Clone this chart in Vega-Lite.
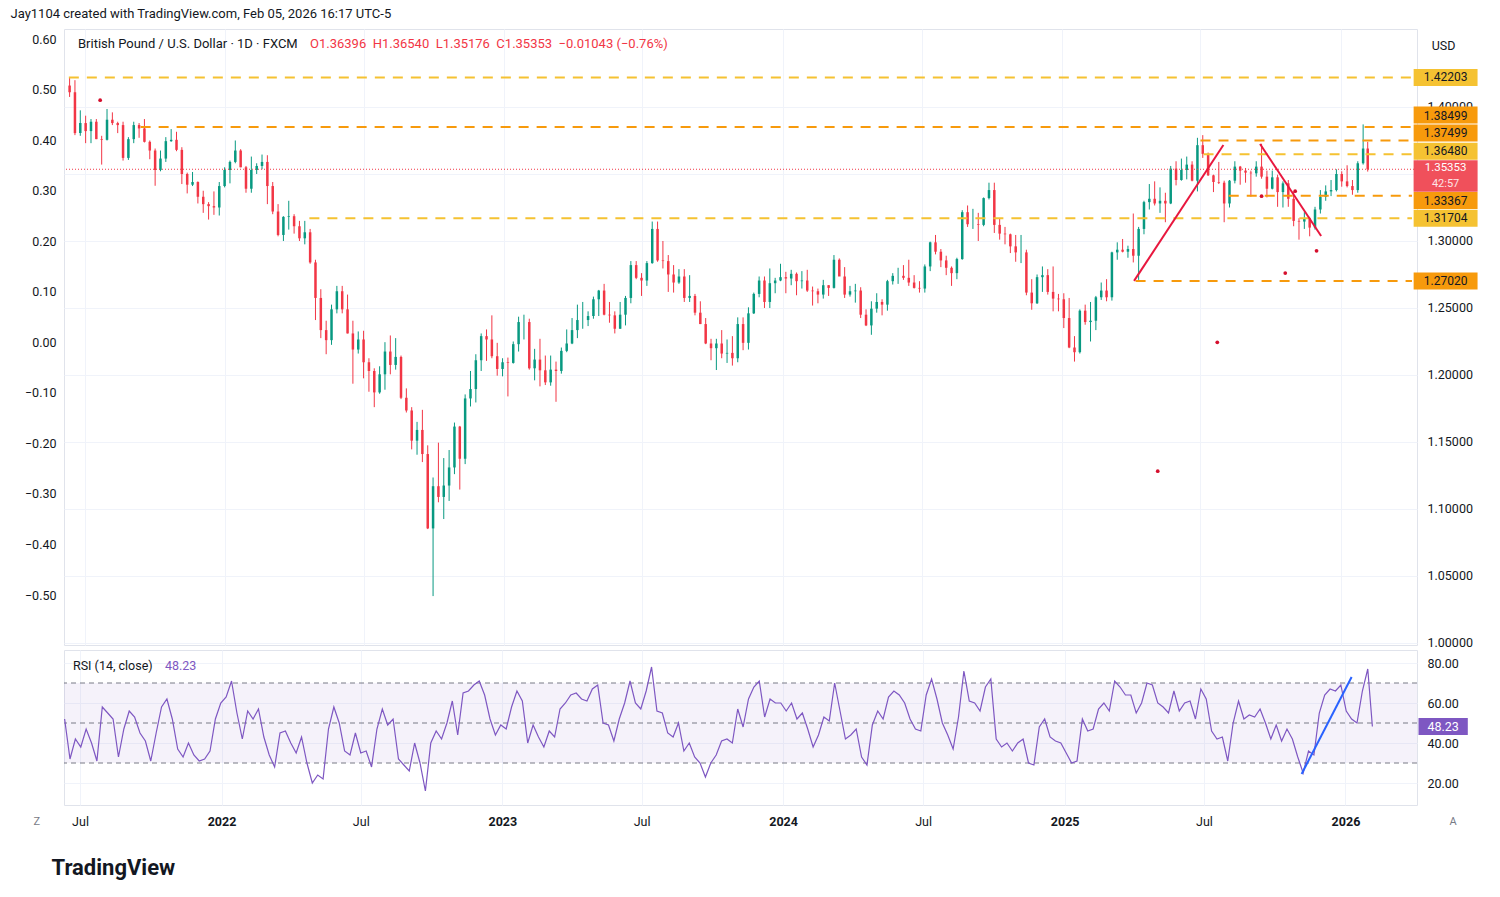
{
  "$schema": "https://vega.github.io/schema/vega-lite/v6.json",
  "background": "white",
  "padding": {"left": 10, "top": 7, "right": 6, "bottom": 10},
  "title": {"text": "Jay1104 created with TradingView.com, Feb 05, 2026 16:17 UTC-5", "anchor": "start", "frame": "bounds", "font": "Roboto", "fontSize": 13, "fontWeight": "normal", "color": "#131722", "offset": 8},
  "config": {
    "font": "Roboto",
    "view": {"stroke": "#e0e3eb"},
    "axis": {"labelFont": "Roboto", "labelFontSize": 12.5, "labelColor": "#131722", "domain": false, "ticks": false, "gridColor": "#f0f3fa", "gridWidth": 1, "titleFont": "Roboto"}
  },
  "datasets": {
    "lv": [
      {"p": 1.42203, "s": "2021-06-10", "k": "gold"},
      {"p": 1.38499, "s": "2021-09-12", "k": "orange"},
      {"p": 1.37499, "s": "2025-07-01", "k": "orange"},
      {"p": 1.3648, "s": "2025-07-05", "k": "gold"},
      {"p": 1.33367, "s": "2025-08-07", "k": "orange"},
      {"p": 1.31704, "s": "2022-04-21", "k": "gold"},
      {"p": 1.2702, "s": "2025-04-07", "k": "orange"}
    ],
    "px": [
      {"d":"2021-06-11","o":1.416,"h":1.422,"l":1.4075,"c":1.411,"r":52},
      {"d":"2021-06-18","o":1.411,"h":1.42,"l":1.379,"c":1.3805,"r":32},
      {"d":"2021-06-25","o":1.3805,"h":1.3975,"l":1.3785,"c":1.388,"r":42},
      {"d":"2021-07-02","o":1.388,"h":1.3935,"l":1.373,"c":1.382,"r":38},
      {"d":"2021-07-09","o":1.382,"h":1.391,"l":1.373,"c":1.389,"r":47},
      {"d":"2021-07-16","o":1.389,"h":1.391,"l":1.376,"c":1.376,"r":40},
      {"d":"2021-07-23","o":1.376,"h":1.3785,"l":1.357,"c":1.3755,"r":31},
      {"d":"2021-07-30","o":1.3755,"h":1.3985,"l":1.375,"c":1.3905,"r":58},
      {"d":"2021-08-06","o":1.3905,"h":1.396,"l":1.3865,"c":1.388,"r":55},
      {"d":"2021-08-13","o":1.388,"h":1.389,"l":1.3805,"c":1.3865,"r":52},
      {"d":"2021-08-20","o":1.3865,"h":1.389,"l":1.36,"c":1.362,"r":33},
      {"d":"2021-08-27","o":1.362,"h":1.3775,"l":1.3605,"c":1.376,"r":47},
      {"d":"2021-09-03","o":1.376,"h":1.389,"l":1.373,"c":1.3865,"r":56},
      {"d":"2021-09-10","o":1.3865,"h":1.388,"l":1.377,"c":1.384,"r":53},
      {"d":"2021-09-17","o":1.384,"h":1.391,"l":1.3735,"c":1.374,"r":45},
      {"d":"2021-09-24","o":1.374,"h":1.375,"l":1.361,"c":1.3675,"r":41},
      {"d":"2021-10-01","o":1.3675,"h":1.369,"l":1.3412,"c":1.353,"r":31},
      {"d":"2021-10-08","o":1.353,"h":1.3675,"l":1.352,"c":1.3615,"r":45},
      {"d":"2021-10-15","o":1.3615,"h":1.3775,"l":1.359,"c":1.3745,"r":58},
      {"d":"2021-10-22","o":1.3745,"h":1.3835,"l":1.374,"c":1.3755,"r":62},
      {"d":"2021-10-29","o":1.3755,"h":1.3815,"l":1.367,"c":1.368,"r":52},
      {"d":"2021-11-05","o":1.368,"h":1.37,"l":1.3425,"c":1.35,"r":37},
      {"d":"2021-11-12","o":1.35,"h":1.351,"l":1.3355,"c":1.342,"r":33},
      {"d":"2021-11-19","o":1.342,"h":1.3515,"l":1.341,"c":1.344,"r":40},
      {"d":"2021-11-26","o":1.344,"h":1.3445,"l":1.328,"c":1.333,"r":34},
      {"d":"2021-12-03","o":1.333,"h":1.3375,"l":1.321,"c":1.3275,"r":31},
      {"d":"2021-12-10","o":1.3275,"h":1.329,"l":1.316,"c":1.326,"r":32},
      {"d":"2021-12-17","o":1.326,"h":1.337,"l":1.3195,"c":1.325,"r":36},
      {"d":"2021-12-24","o":1.325,"h":1.344,"l":1.319,"c":1.341,"r":52},
      {"d":"2021-12-31","o":1.341,"h":1.355,"l":1.34,"c":1.353,"r":60},
      {"d":"2022-01-07","o":1.353,"h":1.36,"l":1.343,"c":1.359,"r":63},
      {"d":"2022-01-14","o":1.359,"h":1.375,"l":1.358,"c":1.3675,"r":71},
      {"d":"2022-01-21","o":1.3675,"h":1.3685,"l":1.355,"c":1.355,"r":55},
      {"d":"2022-01-28","o":1.355,"h":1.356,"l":1.336,"c":1.339,"r":42},
      {"d":"2022-02-04","o":1.339,"h":1.363,"l":1.336,"c":1.353,"r":56},
      {"d":"2022-02-11","o":1.353,"h":1.358,"l":1.35,"c":1.356,"r":52},
      {"d":"2022-02-18","o":1.356,"h":1.3645,"l":1.3535,"c":1.359,"r":57},
      {"d":"2022-02-25","o":1.359,"h":1.364,"l":1.3275,"c":1.341,"r":43},
      {"d":"2022-03-04","o":1.341,"h":1.344,"l":1.32,"c":1.322,"r":34},
      {"d":"2022-03-11","o":1.322,"h":1.3275,"l":1.3035,"c":1.3045,"r":28},
      {"d":"2022-03-18","o":1.3045,"h":1.3185,"l":1.3,"c":1.318,"r":45},
      {"d":"2022-03-25","o":1.318,"h":1.33,"l":1.3085,"c":1.3185,"r":46},
      {"d":"2022-04-01","o":1.3185,"h":1.32,"l":1.3055,"c":1.311,"r":40},
      {"d":"2022-04-08","o":1.311,"h":1.315,"l":1.3,"c":1.302,"r":35},
      {"d":"2022-04-15","o":1.302,"h":1.315,"l":1.2975,"c":1.3065,"r":43},
      {"d":"2022-04-22","o":1.3065,"h":1.309,"l":1.283,"c":1.284,"r":30},
      {"d":"2022-04-29","o":1.284,"h":1.286,"l":1.241,"c":1.2575,"r":20},
      {"d":"2022-05-06","o":1.2575,"h":1.264,"l":1.2275,"c":1.2335,"r":24},
      {"d":"2022-05-13","o":1.2335,"h":1.2405,"l":1.2155,"c":1.226,"r":22},
      {"d":"2022-05-20","o":1.226,"h":1.2525,"l":1.2225,"c":1.249,"r":47},
      {"d":"2022-05-27","o":1.249,"h":1.2665,"l":1.246,"c":1.2625,"r":58},
      {"d":"2022-06-03","o":1.2625,"h":1.2665,"l":1.246,"c":1.249,"r":50},
      {"d":"2022-06-10","o":1.249,"h":1.26,"l":1.231,"c":1.231,"r":36},
      {"d":"2022-06-17","o":1.231,"h":1.2405,"l":1.1935,"c":1.219,"r":34},
      {"d":"2022-06-24","o":1.219,"h":1.2325,"l":1.216,"c":1.2265,"r":45},
      {"d":"2022-07-01","o":1.2265,"h":1.233,"l":1.1975,"c":1.2095,"r":35},
      {"d":"2022-07-08","o":1.2095,"h":1.2125,"l":1.1875,"c":1.203,"r":36},
      {"d":"2022-07-15","o":1.203,"h":1.205,"l":1.176,"c":1.187,"r":28},
      {"d":"2022-07-22","o":1.187,"h":1.2065,"l":1.186,"c":1.2005,"r":47},
      {"d":"2022-07-29","o":1.2005,"h":1.2245,"l":1.189,"c":1.2175,"r":57},
      {"d":"2022-08-05","o":1.2175,"h":1.2295,"l":1.2005,"c":1.2075,"r":49},
      {"d":"2022-08-12","o":1.2075,"h":1.2275,"l":1.204,"c":1.2135,"r":52},
      {"d":"2022-08-19","o":1.2135,"h":1.2145,"l":1.182,"c":1.183,"r":32},
      {"d":"2022-08-26","o":1.183,"h":1.19,"l":1.172,"c":1.1735,"r":29},
      {"d":"2022-09-02","o":1.1735,"h":1.176,"l":1.1445,"c":1.151,"r":26},
      {"d":"2022-09-09","o":1.151,"h":1.165,"l":1.1405,"c":1.159,"r":40},
      {"d":"2022-09-16","o":1.159,"h":1.174,"l":1.135,"c":1.141,"r":30},
      {"d":"2022-09-23","o":1.141,"h":1.1475,"l":1.085,"c":1.0855,"r":16},
      {"d":"2022-09-30","o":1.0855,"h":1.1235,"l":1.035,"c":1.117,"r":40},
      {"d":"2022-10-07","o":1.117,"h":1.1495,"l":1.105,"c":1.109,"r":46},
      {"d":"2022-10-14","o":1.109,"h":1.138,"l":1.0925,"c":1.1175,"r":42},
      {"d":"2022-10-21","o":1.1175,"h":1.144,"l":1.106,"c":1.131,"r":50},
      {"d":"2022-10-28","o":1.131,"h":1.1645,"l":1.126,"c":1.1615,"r":61},
      {"d":"2022-11-04","o":1.1615,"h":1.162,"l":1.1145,"c":1.1375,"r":44},
      {"d":"2022-11-11","o":1.1375,"h":1.1855,"l":1.1335,"c":1.1825,"r":65},
      {"d":"2022-11-18","o":1.1825,"h":1.203,"l":1.1765,"c":1.1895,"r":66},
      {"d":"2022-11-25","o":1.1895,"h":1.2155,"l":1.1795,"c":1.211,"r":69},
      {"d":"2022-12-02","o":1.211,"h":1.231,"l":1.203,"c":1.229,"r":71},
      {"d":"2022-12-09","o":1.229,"h":1.234,"l":1.2105,"c":1.2265,"r":64},
      {"d":"2022-12-16","o":1.2265,"h":1.2445,"l":1.2125,"c":1.214,"r":52},
      {"d":"2022-12-23","o":1.214,"h":1.224,"l":1.1995,"c":1.2045,"r":44},
      {"d":"2022-12-30","o":1.2045,"h":1.2125,"l":1.199,"c":1.2095,"r":49},
      {"d":"2023-01-06","o":1.2095,"h":1.213,"l":1.184,"c":1.209,"r":47},
      {"d":"2023-01-13","o":1.209,"h":1.225,"l":1.2085,"c":1.223,"r":58},
      {"d":"2023-01-20","o":1.223,"h":1.2435,"l":1.2175,"c":1.2395,"r":66},
      {"d":"2023-01-27","o":1.2395,"h":1.245,"l":1.2265,"c":1.2395,"r":61},
      {"d":"2023-02-03","o":1.2395,"h":1.242,"l":1.204,"c":1.205,"r":40},
      {"d":"2023-02-10","o":1.205,"h":1.2195,"l":1.196,"c":1.2115,"r":49},
      {"d":"2023-02-17","o":1.2115,"h":1.227,"l":1.1915,"c":1.2035,"r":43},
      {"d":"2023-02-24","o":1.2035,"h":1.2145,"l":1.1925,"c":1.1945,"r":38},
      {"d":"2023-03-03","o":1.1945,"h":1.2145,"l":1.192,"c":1.204,"r":46},
      {"d":"2023-03-10","o":1.204,"h":1.21,"l":1.18,"c":1.203,"r":43},
      {"d":"2023-03-17","o":1.203,"h":1.2205,"l":1.201,"c":1.218,"r":57},
      {"d":"2023-03-24","o":1.218,"h":1.234,"l":1.217,"c":1.2235,"r":60},
      {"d":"2023-03-31","o":1.2235,"h":1.2425,"l":1.223,"c":1.2335,"r":64},
      {"d":"2023-04-07","o":1.2335,"h":1.2525,"l":1.2275,"c":1.241,"r":65},
      {"d":"2023-04-14","o":1.241,"h":1.2545,"l":1.2345,"c":1.241,"r":62},
      {"d":"2023-04-21","o":1.241,"h":1.2475,"l":1.2365,"c":1.244,"r":61},
      {"d":"2023-04-28","o":1.244,"h":1.2585,"l":1.242,"c":1.2565,"r":67},
      {"d":"2023-05-05","o":1.2565,"h":1.2635,"l":1.244,"c":1.263,"r":69},
      {"d":"2023-05-12","o":1.263,"h":1.268,"l":1.2445,"c":1.245,"r":50},
      {"d":"2023-05-19","o":1.245,"h":1.2545,"l":1.239,"c":1.2445,"r":49},
      {"d":"2023-05-26","o":1.2445,"h":1.2475,"l":1.231,"c":1.2345,"r":41},
      {"d":"2023-06-02","o":1.2345,"h":1.2545,"l":1.2345,"c":1.245,"r":52},
      {"d":"2023-06-09","o":1.245,"h":1.259,"l":1.237,"c":1.2575,"r":60},
      {"d":"2023-06-16","o":1.2575,"h":1.285,"l":1.2535,"c":1.282,"r":71},
      {"d":"2023-06-23","o":1.282,"h":1.285,"l":1.2715,"c":1.2725,"r":60},
      {"d":"2023-06-30","o":1.2725,"h":1.276,"l":1.259,"c":1.2705,"r":57},
      {"d":"2023-07-07","o":1.2705,"h":1.285,"l":1.2665,"c":1.2835,"r":66},
      {"d":"2023-07-14","o":1.2835,"h":1.3145,"l":1.283,"c":1.309,"r":78},
      {"d":"2023-07-21","o":1.309,"h":1.3145,"l":1.2845,"c":1.2855,"r":56},
      {"d":"2023-07-28","o":1.2855,"h":1.3,"l":1.2795,"c":1.285,"r":55},
      {"d":"2023-08-04","o":1.285,"h":1.2895,"l":1.262,"c":1.275,"r":45},
      {"d":"2023-08-11","o":1.275,"h":1.282,"l":1.2615,"c":1.269,"r":43},
      {"d":"2023-08-18","o":1.269,"h":1.279,"l":1.268,"c":1.2735,"r":50},
      {"d":"2023-08-25","o":1.2735,"h":1.279,"l":1.2545,"c":1.2575,"r":36},
      {"d":"2023-09-01","o":1.2575,"h":1.2745,"l":1.2545,"c":1.259,"r":40},
      {"d":"2023-09-08","o":1.259,"h":1.2605,"l":1.2445,"c":1.2465,"r":33},
      {"d":"2023-09-15","o":1.2465,"h":1.255,"l":1.238,"c":1.238,"r":30},
      {"d":"2023-09-22","o":1.238,"h":1.2425,"l":1.223,"c":1.2235,"r":23},
      {"d":"2023-09-29","o":1.2235,"h":1.227,"l":1.211,"c":1.22,"r":30},
      {"d":"2023-10-06","o":1.22,"h":1.227,"l":1.2037,"c":1.2235,"r":34},
      {"d":"2023-10-13","o":1.2235,"h":1.2335,"l":1.2125,"c":1.216,"r":41},
      {"d":"2023-10-20","o":1.216,"h":1.2265,"l":1.209,"c":1.2165,"r":42},
      {"d":"2023-10-27","o":1.2165,"h":1.229,"l":1.207,"c":1.2125,"r":40},
      {"d":"2023-11-03","o":1.2125,"h":1.243,"l":1.2095,"c":1.238,"r":57},
      {"d":"2023-11-10","o":1.238,"h":1.243,"l":1.2185,"c":1.224,"r":48},
      {"d":"2023-11-17","o":1.224,"h":1.2505,"l":1.219,"c":1.246,"r":62},
      {"d":"2023-11-24","o":1.246,"h":1.2615,"l":1.2455,"c":1.2605,"r":68},
      {"d":"2023-12-01","o":1.2605,"h":1.2735,"l":1.258,"c":1.2705,"r":71},
      {"d":"2023-12-08","o":1.2705,"h":1.2735,"l":1.25,"c":1.2545,"r":53},
      {"d":"2023-12-15","o":1.2545,"h":1.2795,"l":1.25,"c":1.2685,"r":62},
      {"d":"2023-12-22","o":1.2685,"h":1.2725,"l":1.261,"c":1.2705,"r":60},
      {"d":"2023-12-29","o":1.2705,"h":1.283,"l":1.27,"c":1.273,"r":60},
      {"d":"2024-01-05","o":1.273,"h":1.277,"l":1.261,"c":1.272,"r":56},
      {"d":"2024-01-12","o":1.272,"h":1.2785,"l":1.267,"c":1.2755,"r":60},
      {"d":"2024-01-19","o":1.2755,"h":1.2765,"l":1.2595,"c":1.27,"r":52},
      {"d":"2024-01-26","o":1.27,"h":1.2775,"l":1.2645,"c":1.2705,"r":55},
      {"d":"2024-02-02","o":1.2705,"h":1.2785,"l":1.262,"c":1.263,"r":47},
      {"d":"2024-02-09","o":1.263,"h":1.266,"l":1.2518,"c":1.2625,"r":38},
      {"d":"2024-02-16","o":1.2625,"h":1.2645,"l":1.2535,"c":1.26,"r":44},
      {"d":"2024-02-23","o":1.26,"h":1.271,"l":1.257,"c":1.267,"r":53},
      {"d":"2024-03-01","o":1.267,"h":1.267,"l":1.259,"c":1.265,"r":51},
      {"d":"2024-03-08","o":1.265,"h":1.2895,"l":1.2645,"c":1.286,"r":70},
      {"d":"2024-03-15","o":1.286,"h":1.287,"l":1.274,"c":1.2735,"r":56},
      {"d":"2024-03-22","o":1.2735,"h":1.2805,"l":1.2575,"c":1.26,"r":42},
      {"d":"2024-03-29","o":1.26,"h":1.2665,"l":1.2585,"c":1.2625,"r":44},
      {"d":"2024-04-05","o":1.2625,"h":1.268,"l":1.254,"c":1.263,"r":47},
      {"d":"2024-04-12","o":1.263,"h":1.2655,"l":1.2425,"c":1.245,"r":33},
      {"d":"2024-04-19","o":1.245,"h":1.249,"l":1.2365,"c":1.237,"r":29},
      {"d":"2024-04-26","o":1.237,"h":1.255,"l":1.23,"c":1.2495,"r":49},
      {"d":"2024-05-03","o":1.2495,"h":1.261,"l":1.2465,"c":1.2545,"r":56},
      {"d":"2024-05-10","o":1.2545,"h":1.2565,"l":1.2445,"c":1.2525,"r":52},
      {"d":"2024-05-17","o":1.2525,"h":1.271,"l":1.248,"c":1.27,"r":63},
      {"d":"2024-05-24","o":1.27,"h":1.276,"l":1.2675,"c":1.274,"r":66},
      {"d":"2024-05-31","o":1.274,"h":1.28,"l":1.268,"c":1.274,"r":64},
      {"d":"2024-06-07","o":1.274,"h":1.282,"l":1.271,"c":1.2725,"r":60},
      {"d":"2024-06-14","o":1.2725,"h":1.286,"l":1.2665,"c":1.269,"r":52},
      {"d":"2024-06-21","o":1.269,"h":1.2745,"l":1.2645,"c":1.265,"r":47},
      {"d":"2024-06-28","o":1.265,"h":1.27,"l":1.2615,"c":1.2645,"r":46},
      {"d":"2024-07-05","o":1.2645,"h":1.2825,"l":1.2615,"c":1.281,"r":64},
      {"d":"2024-07-12","o":1.281,"h":1.2995,"l":1.2775,"c":1.299,"r":72},
      {"d":"2024-07-19","o":1.299,"h":1.3045,"l":1.29,"c":1.292,"r":62},
      {"d":"2024-07-26","o":1.292,"h":1.294,"l":1.2805,"c":1.2855,"r":50},
      {"d":"2024-08-02","o":1.2855,"h":1.289,"l":1.2745,"c":1.28,"r":44},
      {"d":"2024-08-09","o":1.28,"h":1.281,"l":1.2665,"c":1.276,"r":37},
      {"d":"2024-08-16","o":1.276,"h":1.2875,"l":1.2715,"c":1.2865,"r":53},
      {"d":"2024-08-23","o":1.2865,"h":1.323,"l":1.286,"c":1.3215,"r":76},
      {"d":"2024-08-30","o":1.3215,"h":1.3265,"l":1.3105,"c":1.3125,"r":61},
      {"d":"2024-09-06","o":1.3125,"h":1.324,"l":1.309,"c":1.3125,"r":60},
      {"d":"2024-09-13","o":1.3125,"h":1.321,"l":1.3,"c":1.312,"r":56},
      {"d":"2024-09-20","o":1.312,"h":1.3325,"l":1.311,"c":1.332,"r":68},
      {"d":"2024-09-27","o":1.332,"h":1.3435,"l":1.331,"c":1.338,"r":72},
      {"d":"2024-10-04","o":1.338,"h":1.3435,"l":1.306,"c":1.312,"r":42},
      {"d":"2024-10-11","o":1.312,"h":1.3165,"l":1.301,"c":1.3055,"r":38},
      {"d":"2024-10-18","o":1.3055,"h":1.3105,"l":1.2975,"c":1.305,"r":40},
      {"d":"2024-10-25","o":1.305,"h":1.3055,"l":1.291,"c":1.296,"r":36},
      {"d":"2024-11-01","o":1.296,"h":1.3045,"l":1.2845,"c":1.2915,"r":40},
      {"d":"2024-11-08","o":1.2915,"h":1.3045,"l":1.2835,"c":1.2915,"r":42},
      {"d":"2024-11-15","o":1.2915,"h":1.2935,"l":1.2595,"c":1.2615,"r":30},
      {"d":"2024-11-22","o":1.2615,"h":1.2715,"l":1.2487,"c":1.2535,"r":29},
      {"d":"2024-11-29","o":1.2535,"h":1.275,"l":1.253,"c":1.273,"r":48},
      {"d":"2024-12-06","o":1.273,"h":1.281,"l":1.262,"c":1.2745,"r":52},
      {"d":"2024-12-13","o":1.2745,"h":1.279,"l":1.26,"c":1.262,"r":43},
      {"d":"2024-12-20","o":1.262,"h":1.281,"l":1.2475,"c":1.257,"r":41},
      {"d":"2024-12-27","o":1.257,"h":1.2605,"l":1.2475,"c":1.2565,"r":40},
      {"d":"2025-01-03","o":1.2565,"h":1.261,"l":1.235,"c":1.2425,"r":35},
      {"d":"2025-01-10","o":1.2425,"h":1.2575,"l":1.22,"c":1.2205,"r":30},
      {"d":"2025-01-17","o":1.2205,"h":1.229,"l":1.21,"c":1.217,"r":31},
      {"d":"2025-01-24","o":1.217,"h":1.249,"l":1.216,"c":1.248,"r":52},
      {"d":"2025-01-31","o":1.248,"h":1.2525,"l":1.2375,"c":1.2395,"r":46},
      {"d":"2025-02-07","o":1.2395,"h":1.2545,"l":1.225,"c":1.2405,"r":47},
      {"d":"2025-02-14","o":1.2405,"h":1.259,"l":1.2335,"c":1.258,"r":57},
      {"d":"2025-02-21","o":1.258,"h":1.269,"l":1.256,"c":1.263,"r":60},
      {"d":"2025-02-28","o":1.263,"h":1.2715,"l":1.255,"c":1.258,"r":56},
      {"d":"2025-03-07","o":1.258,"h":1.292,"l":1.2555,"c":1.2915,"r":71},
      {"d":"2025-03-14","o":1.2915,"h":1.299,"l":1.286,"c":1.2935,"r":68},
      {"d":"2025-03-21","o":1.2935,"h":1.3015,"l":1.2915,"c":1.292,"r":64},
      {"d":"2025-03-28","o":1.292,"h":1.2965,"l":1.2875,"c":1.294,"r":64},
      {"d":"2025-04-04","o":1.294,"h":1.3205,"l":1.284,"c":1.289,"r":55},
      {"d":"2025-04-11","o":1.289,"h":1.3105,"l":1.271,"c":1.309,"r":60},
      {"d":"2025-04-18","o":1.309,"h":1.33,"l":1.305,"c":1.329,"r":70},
      {"d":"2025-04-25","o":1.329,"h":1.3425,"l":1.3235,"c":1.3315,"r":69},
      {"d":"2025-05-02","o":1.3315,"h":1.3445,"l":1.3265,"c":1.328,"r":60},
      {"d":"2025-05-09","o":1.328,"h":1.34,"l":1.321,"c":1.33,"r":58},
      {"d":"2025-05-16","o":1.33,"h":1.336,"l":1.314,"c":1.328,"r":55},
      {"d":"2025-05-23","o":1.328,"h":1.356,"l":1.3275,"c":1.354,"r":66},
      {"d":"2025-05-30","o":1.354,"h":1.3595,"l":1.3415,"c":1.3455,"r":56},
      {"d":"2025-06-06","o":1.3455,"h":1.3615,"l":1.345,"c":1.353,"r":60},
      {"d":"2025-06-13","o":1.353,"h":1.363,"l":1.346,"c":1.357,"r":61},
      {"d":"2025-06-20","o":1.357,"h":1.3595,"l":1.3445,"c":1.345,"r":52},
      {"d":"2025-06-27","o":1.345,"h":1.377,"l":1.337,"c":1.3715,"r":67},
      {"d":"2025-07-04","o":1.3715,"h":1.379,"l":1.362,"c":1.365,"r":62},
      {"d":"2025-07-11","o":1.365,"h":1.366,"l":1.3485,"c":1.349,"r":46},
      {"d":"2025-07-18","o":1.349,"h":1.3495,"l":1.3365,"c":1.344,"r":42},
      {"d":"2025-07-25","o":1.344,"h":1.359,"l":1.3425,"c":1.3435,"r":43},
      {"d":"2025-08-01","o":1.3435,"h":1.345,"l":1.314,"c":1.328,"r":31},
      {"d":"2025-08-08","o":1.328,"h":1.3455,"l":1.325,"c":1.345,"r":50},
      {"d":"2025-08-15","o":1.345,"h":1.3595,"l":1.343,"c":1.3555,"r":61},
      {"d":"2025-08-22","o":1.3555,"h":1.356,"l":1.342,"c":1.3525,"r":52},
      {"d":"2025-08-29","o":1.3525,"h":1.3545,"l":1.3435,"c":1.351,"r":54},
      {"d":"2025-09-05","o":1.351,"h":1.3525,"l":1.333,"c":1.3505,"r":53},
      {"d":"2025-09-12","o":1.3505,"h":1.3595,"l":1.348,"c":1.3555,"r":57},
      {"d":"2025-09-19","o":1.3555,"h":1.3726,"l":1.3465,"c":1.348,"r":50},
      {"d":"2025-09-26","o":1.348,"h":1.3525,"l":1.3325,"c":1.339,"r":42},
      {"d":"2025-10-03","o":1.339,"h":1.3525,"l":1.3385,"c":1.3475,"r":49},
      {"d":"2025-10-10","o":1.3475,"h":1.3495,"l":1.3255,"c":1.3365,"r":41},
      {"d":"2025-10-17","o":1.3365,"h":1.3445,"l":1.325,"c":1.343,"r":47},
      {"d":"2025-10-24","o":1.343,"h":1.3455,"l":1.3255,"c":1.3315,"r":42},
      {"d":"2025-10-31","o":1.3315,"h":1.3365,"l":1.311,"c":1.315,"r":33},
      {"d":"2025-11-07","o":1.315,"h":1.317,"l":1.301,"c":1.3145,"r":25},
      {"d":"2025-11-14","o":1.3145,"h":1.3215,"l":1.309,"c":1.317,"r":36},
      {"d":"2025-11-21","o":1.317,"h":1.318,"l":1.3035,"c":1.31,"r":34},
      {"d":"2025-11-28","o":1.31,"h":1.3255,"l":1.3085,"c":1.3235,"r":55},
      {"d":"2025-12-05","o":1.3235,"h":1.338,"l":1.3205,"c":1.333,"r":64},
      {"d":"2025-12-12","o":1.333,"h":1.3415,"l":1.33,"c":1.337,"r":67},
      {"d":"2025-12-19","o":1.337,"h":1.3455,"l":1.3335,"c":1.338,"r":66},
      {"d":"2025-12-26","o":1.338,"h":1.3535,"l":1.337,"c":1.35,"r":69},
      {"d":"2026-01-02","o":1.35,"h":1.352,"l":1.3405,"c":1.3445,"r":56},
      {"d":"2026-01-09","o":1.3445,"h":1.3565,"l":1.34,"c":1.341,"r":52},
      {"d":"2026-01-16","o":1.341,"h":1.3455,"l":1.3345,"c":1.338,"r":50},
      {"d":"2026-01-23","o":1.338,"h":1.3595,"l":1.336,"c":1.358,"r":66},
      {"d":"2026-01-30","o":1.358,"h":1.387,"l":1.357,"c":1.369,"r":77},
      {"d":"2026-02-05","o":1.369,"h":1.374,"l":1.3518,"c":1.3535,"r":48.23}
    ]
  },
  "spacing": -4,
  "vconcat": [
    {
      "width": 1353,
      "height": 616,
      "layer": [
        {
          "layer": [
            {
              "data": {"name": "px"},
              "mark": {"type": "rule", "strokeWidth": 1},
              "encoding": {
                "x": {"field": "d", "type": "temporal", "scale": {"domain": [{"year": 2021, "month": 6, "date": 10, "hours": 5}, {"year": 2026, "month": 4, "date": 4}]},
                  "axis": {"orient": "bottom", "labels": false, "grid": true, "title": null, "minExtent": 0, "maxExtent": 0, "labelPadding": 0, "values": [{"year":2021,"month":7,"date":1},{"year":2022,"month":1,"date":1},{"year":2022,"month":7,"date":1},{"year":2023,"month":1,"date":1},{"year":2023,"month":7,"date":1},{"year":2024,"month":1,"date":1},{"year":2024,"month":7,"date":1},{"year":2025,"month":1,"date":1},{"year":2025,"month":7,"date":1},{"year":2026,"month":1,"date":1}]}},
                "y": {"field": "l", "type": "quantitative", "scale": {"domain": [0.9985, 1.4582], "zero": false},
                  "axis": {"orient": "right", "values": [1, 1.05, 1.1, 1.15, 1.2, 1.25, 1.3, 1.35, 1.4], "format": ".5f", "grid": true, "labelPadding": 10, "title": "USD", "titleAngle": 0, "titleX": 26, "titleY": 16, "titleAlign": "center", "titleBaseline": "middle", "titleFontSize": 12.5, "titleFontWeight": "normal", "titleColor": "#131722"}},
                "y2": {"field": "h"},
                "color": {"condition": {"test": "datum.c >= datum.o", "value": "#089981"}, "value": "#f23645"}
              }
            },
            {
              "data": {"name": "px"},
              "mark": {"type": "bar", "size": 2.5},
              "encoding": {
                "x": {"field": "d", "type": "temporal", "scale": {"domain": [{"year": 2021, "month": 6, "date": 10, "hours": 5}, {"year": 2026, "month": 4, "date": 4}]}},
                "y": {"field": "o", "type": "quantitative", "scale": {"domain": [0.9985, 1.4582], "zero": false}},
                "y2": {"field": "c"},
                "color": {"condition": {"test": "datum.c >= datum.o", "value": "#089981"}, "value": "#f23645"}
              }
            },
            {
              "data": {"name": "lv"},
              "mark": {"type": "rule", "strokeWidth": 2, "strokeDash": [10, 8]},
              "encoding": {
                "x": {"field": "s", "type": "temporal", "scale": {"domain": [{"year": 2021, "month": 6, "date": 10, "hours": 5}, {"year": 2026, "month": 4, "date": 4}]}},
                "x2": {"datum": {"year": 2026, "month": 4, "date": 4}},
                "y": {"field": "p", "type": "quantitative", "scale": {"domain": [0.9985, 1.4582], "zero": false}},
                "color": {"field": "k", "type": "nominal", "scale": {"domain": ["gold", "orange"], "range": ["#f5c232", "#f79a0c"]}, "legend": null}
              }
            },
            {
              "data": {"values": [{"p": 1.35353}]},
              "mark": {"type": "rule", "color": "#f23645", "strokeWidth": 1, "strokeDash": [1, 2]},
              "encoding": {
                "y": {"field": "p", "type": "quantitative", "scale": {"domain": [0.9985, 1.4582], "zero": false}}
              }
            },
            {
              "data": {"values": [
                {"g": 1, "d": "2025-04-05", "p": 1.2702},
                {"g": 1, "d": "2025-07-31", "p": 1.3716},
                {"g": 2, "d": "2025-09-17", "p": 1.3724},
                {"g": 2, "d": "2025-12-06", "p": 1.3037}
              ]},
              "mark": {"type": "line", "color": "#e8173e", "strokeWidth": 2},
              "encoding": {
                "x": {"field": "d", "type": "temporal", "scale": {"domain": [{"year": 2021, "month": 6, "date": 10, "hours": 5}, {"year": 2026, "month": 4, "date": 4}]}},
                "y": {"field": "p", "type": "quantitative", "scale": {"domain": [0.9985, 1.4582], "zero": false}},
                "detail": {"field": "g"}
              }
            },
            {
              "data": {"name": "lv"},
              "transform": [{"filter": "datum.p == 1.42203 || datum.p == 1.31704 || datum.p == 1.2702"}],
              "layer": [
                {"mark": {"type": "point", "filled": true, "opacity": 1, "strokeWidth": 0, "shape": "M-1.88,-0.5H1.88V0.5H-1.88Z", "size": 1156},
                 "encoding": {"x": {"datum": {"year": 2026, "month": 5, "date": 18}, "type": "temporal", "scale": {"domain": [{"year": 2021, "month": 6, "date": 10, "hours": 5}, {"year": 2026, "month": 4, "date": 4}]}},
                   "y": {"field": "p", "type": "quantitative", "scale": {"domain": [0.9985, 1.4582], "zero": false}},
                   "color": {"field": "k", "type": "nominal", "scale": {"domain": ["gold", "orange"], "range": ["#f5c232", "#f79a0c"]}, "legend": null}}},
                {"mark": {"type": "text", "fontSize": 12, "color": "#131722", "align": "center", "baseline": "middle"},
                 "encoding": {"x": {"datum": {"year": 2026, "month": 5, "date": 18}, "type": "temporal", "scale": {"domain": [{"year": 2021, "month": 6, "date": 10, "hours": 5}, {"year": 2026, "month": 4, "date": 4}]}},
                   "y": {"field": "p", "type": "quantitative", "scale": {"domain": [0.9985, 1.4582], "zero": false}},
                   "text": {"field": "p", "format": ".5f"}}}
              ]
            },
            {
              "data": {"name": "lv"},
              "transform": [{"filter": "datum.p == 1.38499"}],
              "layer": [
                {"mark": {"type": "point", "filled": true, "opacity": 1, "strokeWidth": 0, "shape": "M-1.88,-0.5H1.88V0.5H-1.88Z", "size": 1156, "yOffset": -12},
                 "encoding": {"x": {"datum": {"year": 2026, "month": 5, "date": 18}, "type": "temporal", "scale": {"domain": [{"year": 2021, "month": 6, "date": 10, "hours": 5}, {"year": 2026, "month": 4, "date": 4}]}},
                   "y": {"field": "p", "type": "quantitative", "scale": {"domain": [0.9985, 1.4582], "zero": false}},
                   "color": {"field": "k", "type": "nominal", "scale": {"domain": ["gold", "orange"], "range": ["#f5c232", "#f79a0c"]}, "legend": null}}},
                {"mark": {"type": "text", "fontSize": 12, "color": "#131722", "align": "center", "baseline": "middle", "yOffset": -11},
                 "encoding": {"x": {"datum": {"year": 2026, "month": 5, "date": 18}, "type": "temporal", "scale": {"domain": [{"year": 2021, "month": 6, "date": 10, "hours": 5}, {"year": 2026, "month": 4, "date": 4}]}},
                   "y": {"field": "p", "type": "quantitative", "scale": {"domain": [0.9985, 1.4582], "zero": false}},
                   "text": {"field": "p", "format": ".5f"}}}
              ]
            },
            {
              "data": {"name": "lv"},
              "transform": [{"filter": "datum.p == 1.37499"}],
              "layer": [
                {"mark": {"type": "point", "filled": true, "opacity": 1, "strokeWidth": 0, "shape": "M-1.88,-0.5H1.88V0.5H-1.88Z", "size": 1156, "yOffset": -7.5},
                 "encoding": {"x": {"datum": {"year": 2026, "month": 5, "date": 18}, "type": "temporal", "scale": {"domain": [{"year": 2021, "month": 6, "date": 10, "hours": 5}, {"year": 2026, "month": 4, "date": 4}]}},
                   "y": {"field": "p", "type": "quantitative", "scale": {"domain": [0.9985, 1.4582], "zero": false}},
                   "color": {"field": "k", "type": "nominal", "scale": {"domain": ["gold", "orange"], "range": ["#f5c232", "#f79a0c"]}, "legend": null}}},
                {"mark": {"type": "text", "fontSize": 12, "color": "#131722", "align": "center", "baseline": "middle", "yOffset": -7.5},
                 "encoding": {"x": {"datum": {"year": 2026, "month": 5, "date": 18}, "type": "temporal", "scale": {"domain": [{"year": 2021, "month": 6, "date": 10, "hours": 5}, {"year": 2026, "month": 4, "date": 4}]}},
                   "y": {"field": "p", "type": "quantitative", "scale": {"domain": [0.9985, 1.4582], "zero": false}},
                   "text": {"field": "p", "format": ".5f"}}}
              ]
            },
            {
              "data": {"name": "lv"},
              "transform": [{"filter": "datum.p == 1.3648"}],
              "layer": [
                {"mark": {"type": "point", "filled": true, "opacity": 1, "strokeWidth": 0, "shape": "M-1.88,-0.5H1.88V0.5H-1.88Z", "size": 1156, "yOffset": -3},
                 "encoding": {"x": {"datum": {"year": 2026, "month": 5, "date": 18}, "type": "temporal", "scale": {"domain": [{"year": 2021, "month": 6, "date": 10, "hours": 5}, {"year": 2026, "month": 4, "date": 4}]}},
                   "y": {"field": "p", "type": "quantitative", "scale": {"domain": [0.9985, 1.4582], "zero": false}},
                   "color": {"field": "k", "type": "nominal", "scale": {"domain": ["gold", "orange"], "range": ["#f5c232", "#f79a0c"]}, "legend": null}}},
                {"mark": {"type": "text", "fontSize": 12, "color": "#131722", "align": "center", "baseline": "middle", "yOffset": -3.5},
                 "encoding": {"x": {"datum": {"year": 2026, "month": 5, "date": 18}, "type": "temporal", "scale": {"domain": [{"year": 2021, "month": 6, "date": 10, "hours": 5}, {"year": 2026, "month": 4, "date": 4}]}},
                   "y": {"field": "p", "type": "quantitative", "scale": {"domain": [0.9985, 1.4582], "zero": false}},
                   "text": {"field": "p", "format": ".5f"}}}
              ]
            },
            {
              "data": {"name": "lv"},
              "transform": [{"filter": "datum.p == 1.33367"}],
              "layer": [
                {"mark": {"type": "point", "filled": true, "opacity": 1, "strokeWidth": 0, "shape": "M-1.88,-0.5H1.88V0.5H-1.88Z", "size": 1156, "yOffset": 4.7},
                 "encoding": {"x": {"datum": {"year": 2026, "month": 5, "date": 18}, "type": "temporal", "scale": {"domain": [{"year": 2021, "month": 6, "date": 10, "hours": 5}, {"year": 2026, "month": 4, "date": 4}]}},
                   "y": {"field": "p", "type": "quantitative", "scale": {"domain": [0.9985, 1.4582], "zero": false}},
                   "color": {"field": "k", "type": "nominal", "scale": {"domain": ["gold", "orange"], "range": ["#f5c232", "#f79a0c"]}, "legend": null}}},
                {"mark": {"type": "text", "fontSize": 12, "color": "#131722", "align": "center", "baseline": "middle", "yOffset": 5},
                 "encoding": {"x": {"datum": {"year": 2026, "month": 5, "date": 18}, "type": "temporal", "scale": {"domain": [{"year": 2021, "month": 6, "date": 10, "hours": 5}, {"year": 2026, "month": 4, "date": 4}]}},
                   "y": {"field": "p", "type": "quantitative", "scale": {"domain": [0.9985, 1.4582], "zero": false}},
                   "text": {"field": "p", "format": ".5f"}}}
              ]
            },
            {
              "data": {"values": [{"p": 1.35353, "t": "42:57"}]},
              "layer": [
                {
                  "mark": {"type": "point", "filled": true, "opacity": 1, "strokeWidth": 0, "color": "#f0505b", "shape": "M-1,-0.28H1V0.7H-1Z", "size": 4096},
                  "encoding": {
                    "x": {"datum": {"year": 2026, "month": 5, "date": 18}, "type": "temporal", "scale": {"domain": [{"year": 2021, "month": 6, "date": 10, "hours": 5}, {"year": 2026, "month": 4, "date": 4}]}},
                    "y": {"field": "p", "type": "quantitative", "scale": {"domain": [0.9985, 1.4582], "zero": false}}
                  }
                },
                {
                  "mark": {"type": "text", "fontSize": 11.5, "color": "white", "align": "center", "baseline": "middle", "dy": -1},
                  "encoding": {
                    "x": {"datum": {"year": 2026, "month": 5, "date": 18}, "type": "temporal", "scale": {"domain": [{"year": 2021, "month": 6, "date": 10, "hours": 5}, {"year": 2026, "month": 4, "date": 4}]}},
                    "y": {"field": "p", "type": "quantitative", "scale": {"domain": [0.9985, 1.4582], "zero": false}},
                    "text": {"field": "p", "format": ".5f"}
                  }
                },
                {
                  "mark": {"type": "text", "fontSize": 11, "color": "#fde4e6", "align": "center", "baseline": "middle", "dy": 15},
                  "encoding": {
                    "x": {"datum": {"year": 2026, "month": 5, "date": 18}, "type": "temporal", "scale": {"domain": [{"year": 2021, "month": 6, "date": 10, "hours": 5}, {"year": 2026, "month": 4, "date": 4}]}},
                    "y": {"field": "p", "type": "quantitative", "scale": {"domain": [0.9985, 1.4582], "zero": false}},
                    "text": {"field": "t"}
                  }
                }
              ]
            },
            {
              "data": {"values": [{"t": "British Pound / U.S. Dollar · 1D · FXCM"}]},
              "mark": {"type": "text", "fontSize": 13, "color": "#131722", "align": "left", "baseline": "middle", "dx": 9},
              "encoding": {
                "x": {"datum": {"year": 2021, "month": 6, "date": 10, "hours": 5}, "type": "temporal", "scale": {"domain": [{"year": 2021, "month": 6, "date": 10, "hours": 5}, {"year": 2026, "month": 4, "date": 4}]}},
                "y": {"datum": 1.447, "type": "quantitative", "scale": {"domain": [0.9985, 1.4582], "zero": false}},
                "text": {"field": "t"}
              }
            },
            {
              "data": {"values": [{"t": "O1.36396\u00a0\u00a0H1.36540\u00a0\u00a0L1.35176\u00a0\u00a0C1.35353\u00a0\u00a0−0.01043 (−0.76%)"}]},
              "mark": {"type": "text", "fontSize": 13, "color": "#f23645", "align": "left", "baseline": "middle", "dx": 241},
              "encoding": {
                "x": {"datum": {"year": 2021, "month": 6, "date": 10, "hours": 5}, "type": "temporal", "scale": {"domain": [{"year": 2021, "month": 6, "date": 10, "hours": 5}, {"year": 2026, "month": 4, "date": 4}]}},
                "y": {"datum": 1.447, "type": "quantitative", "scale": {"domain": [0.9985, 1.4582], "zero": false}},
                "text": {"field": "t"}
              }
            }
          ]
        },
        {
          "data": {"values": [
            {"d": "2021-07-21", "v": 0.479},
            {"d": "2025-05-06", "v": -0.255},
            {"d": "2025-07-23", "v": 0.0},
            {"d": "2025-09-19", "v": 0.289},
            {"d": "2025-10-20", "v": 0.137},
            {"d": "2025-11-02", "v": 0.299},
            {"d": "2025-11-30", "v": 0.181}
          ]},
          "mark": {"type": "circle", "color": "#d50f2d", "size": 14, "opacity": 1},
          "encoding": {
            "x": {"field": "d", "type": "temporal", "scale": {"domain": [{"year": 2021, "month": 6, "date": 10, "hours": 5}, {"year": 2026, "month": 4, "date": 4}]}},
            "y": {"field": "v", "type": "quantitative", "scale": {"domain": [-0.5988, 0.6198], "zero": false},
              "axis": {"orient": "left", "values": [-0.5, -0.4, -0.3, -0.2, -0.1, 0, 0.1, 0.2, 0.3, 0.4, 0.5, 0.6], "format": ".2f", "grid": false, "title": null, "labelPadding": 8, "minExtent": 53, "maxExtent": 53}}
          }
        }
      ],
      "resolve": {"scale": {"y": "independent"}, "axis": {"y": "independent"}}
    },
    {
      "width": 1353,
      "height": 155,
      "layer": [
        {
          "data": {"values": [{}]},
          "mark": {"type": "rect", "color": "#7e57c2", "opacity": 0.08},
          "encoding": {
            "y": {"datum": 30, "type": "quantitative", "scale": {"domain": [9, 86.5], "zero": false}},
            "y2": {"datum": 70}
          }
        },
        {
          "data": {"values": [{"v": 70}, {"v": 50}, {"v": 30}]},
          "mark": {"type": "rule", "color": "#787b86", "strokeWidth": 1, "strokeDash": [5, 4]},
          "encoding": {
            "y": {"field": "v", "type": "quantitative", "scale": {"domain": [9, 86.5], "zero": false}}
          }
        },
        {
          "data": {"name": "px"},
          "mark": {"type": "line", "color": "#7e57c2", "strokeWidth": 1.2},
          "encoding": {
            "x": {"field": "d", "type": "temporal", "scale": {"domain": [{"year": 2021, "month": 6, "date": 10, "hours": 5}, {"year": 2026, "month": 4, "date": 4}]},
              "axis": {"orient": "bottom", "grid": true, "labelPadding": 10, "labelFontSize": 12.5,
                "values": [{"year":2021,"month":7,"date":1},{"year":2022,"month":1,"date":1},{"year":2022,"month":7,"date":1},{"year":2023,"month":1,"date":1},{"year":2023,"month":7,"date":1},{"year":2024,"month":1,"date":1},{"year":2024,"month":7,"date":1},{"year":2025,"month":1,"date":1},{"year":2025,"month":7,"date":1},{"year":2026,"month":1,"date":1}],
                "labelExpr": "month(datum.value) == 0 ? timeFormat(datum.value, '%Y') : timeFormat(datum.value, '%b')",
                "labelFontWeight": {"condition": {"test": "month(datum.value) == 0", "value": "bold"}, "value": "normal"},
                "title": "TradingView", "titleFontSize": 22, "titleFontWeight": "bold", "titleColor": "#131722", "titleX": -13, "titleY": 62, "titleAlign": "left", "titleBaseline": "middle"}},
            "y": {"field": "r", "type": "quantitative", "scale": {"domain": [9, 86.5], "zero": false},
              "axis": {"orient": "right", "values": [20, 40, 60, 80], "format": ".2f", "grid": true, "labelPadding": 10, "title": null}}
          }
        },
        {
          "data": {"values": [{"d": "2025-11-05", "r": 24.5}, {"d": "2026-01-09", "r": 73}]},
          "mark": {"type": "line", "color": "#2962ff", "strokeWidth": 2},
          "encoding": {
            "x": {"field": "d", "type": "temporal", "scale": {"domain": [{"year": 2021, "month": 6, "date": 10, "hours": 5}, {"year": 2026, "month": 4, "date": 4}]}},
            "y": {"field": "r", "type": "quantitative", "scale": {"domain": [9, 86.5], "zero": false}}
          }
        },
        {
          "data": {"values": [{"r": 48.23}]},
          "layer": [
            {
              "mark": {"type": "point", "filled": true, "opacity": 1, "strokeWidth": 0, "color": "#7e57c2", "shape": "M-1.45,-0.5H1.45V0.5H-1.45Z", "size": 1156},
              "encoding": {
                "x": {"datum": {"year": 2026, "month": 5, "date": 8}, "type": "temporal", "scale": {"domain": [{"year": 2021, "month": 6, "date": 10, "hours": 5}, {"year": 2026, "month": 4, "date": 4}]}},
                "y": {"field": "r", "type": "quantitative", "scale": {"domain": [9, 86.5], "zero": false}}
              }
            },
            {
              "mark": {"type": "text", "fontSize": 12.5, "color": "white", "align": "center", "baseline": "middle"},
              "encoding": {
                "x": {"datum": {"year": 2026, "month": 5, "date": 8}, "type": "temporal", "scale": {"domain": [{"year": 2021, "month": 6, "date": 10, "hours": 5}, {"year": 2026, "month": 4, "date": 4}]}},
                "y": {"field": "r", "type": "quantitative", "scale": {"domain": [9, 86.5], "zero": false}},
                "text": {"field": "r", "format": ".2f"}
              }
            }
          ]
        },
        {
          "data": {"values": [{"t": "RSI (14, close)"}]},
          "mark": {"type": "text", "fontSize": 12.5, "color": "#131722", "align": "left", "baseline": "middle", "dx": 9},
          "encoding": {
            "x": {"datum": {"year": 2021, "month": 6, "date": 10, "hours": 5}, "type": "temporal", "scale": {"domain": [{"year": 2021, "month": 6, "date": 10, "hours": 5}, {"year": 2026, "month": 4, "date": 4}]}},
            "y": {"datum": 78.5, "type": "quantitative", "scale": {"domain": [9, 86.5], "zero": false}},
            "text": {"field": "t"}
          }
        },
        {
          "data": {"values": [{"t": "48.23"}]},
          "mark": {"type": "text", "fontSize": 12.5, "color": "#7e57c2", "align": "left", "baseline": "middle", "dx": 101},
          "encoding": {
            "x": {"datum": {"year": 2021, "month": 6, "date": 10, "hours": 5}, "type": "temporal", "scale": {"domain": [{"year": 2021, "month": 6, "date": 10, "hours": 5}, {"year": 2026, "month": 4, "date": 4}]}},
            "y": {"datum": 78.5, "type": "quantitative", "scale": {"domain": [9, 86.5], "zero": false}},
            "text": {"field": "t"}
          }
        },
        {
          "data": {"values": [{"t": "Z", "d": "2021-05-06"}, {"t": "A", "d": "2026-05-21"}]},
          "mark": {"type": "text", "fontSize": 11, "color": "#787b86", "align": "center", "baseline": "middle"},
          "encoding": {
            "x": {"field": "d", "type": "temporal", "scale": {"domain": [{"year": 2021, "month": 6, "date": 10, "hours": 5}, {"year": 2026, "month": 4, "date": 4}]}},
            "y": {"datum": 0.5, "type": "quantitative", "scale": {"domain": [9, 86.5], "zero": false}},
            "text": {"field": "t"}
          }
        }
      ]
    }
  ]
}
